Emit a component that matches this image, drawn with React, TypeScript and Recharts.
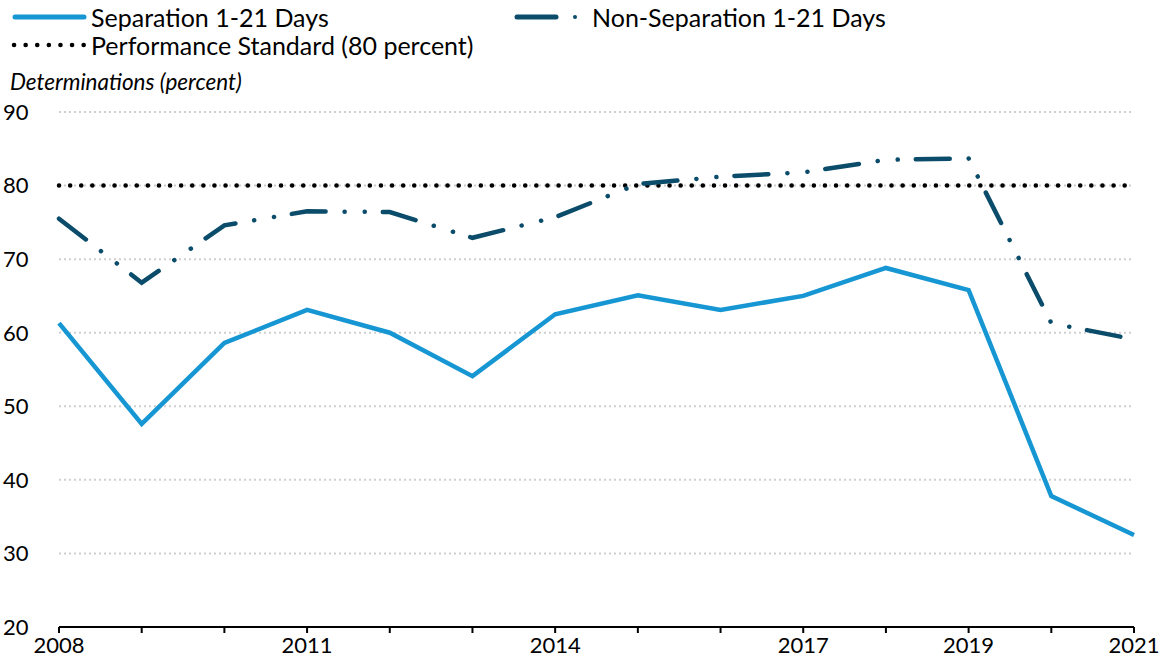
import React from "react";
import { CartesianGrid, Line, LineChart, ReferenceLine, XAxis, YAxis } from "recharts";

const years = [2008, 2009, 2010, 2011, 2012, 2013, 2014, 2015, 2016, 2017, 2018, 2019, 2020, 2021];
const separation = [61.3, 47.6, 58.6, 63.1, 60.0, 54.1, 62.5, 65.1, 63.1, 65.0, 68.8, 65.8, 37.8, 32.5];
const nonSeparation = [75.5, 66.8, 74.6, 76.5, 76.4, 72.9, 75.7, 80.2, 81.2, 81.8, 83.5, 83.7, 61.3, 59.1];
const labelledYears = [2008, 2011, 2014, 2017, 2019, 2021];
const yTicks = [20, 30, 40, 50, 60, 70, 80, 90];
const standard = 80;

const data = years.map((year, i) => ({ year, sep: separation[i], nonSep: nonSeparation[i] }));

const cyan = "#1696d2";
const navy = "#0a4c6a";
const font = "Lato, 'Open Sans', sans-serif";
// long dash, then two dots
const dashDot = "34 19 0.1 20 0.1 18";

function Legend() {
  return (
    <div style={{ position: "absolute", left: 0, top: 0, width: 1166, fontFamily: font, fontSize: 25, color: "#000", lineHeight: "28px" }}>
      <div style={{ position: "absolute", left: 11, top: 3, display: "flex", alignItems: "center" }}>
        <svg width={80} height={10}>
          <line x1={4} y1={5} x2={73} y2={5} stroke={cyan} strokeWidth={5} strokeLinecap="round" />
        </svg>
        <span>Separation 1-21 Days</span>
      </div>
      <div style={{ position: "absolute", left: 513, top: 3, display: "flex", alignItems: "center" }}>
        <svg width={79} height={10}>
          <line x1={4} y1={5} x2={43} y2={5} stroke={navy} strokeWidth={5} strokeLinecap="round" />
          <circle cx={62} cy={5} r={2} fill={navy} />
        </svg>
        <span>Non-Separation 1-21 Days</span>
      </div>
      <div style={{ position: "absolute", left: 11, top: 31, display: "flex", alignItems: "center" }}>
        <svg width={80} height={10}>
          <line x1={3} y1={5} x2={73} y2={5} stroke="#000" strokeWidth={4.5} strokeDasharray="0.1 11.5" strokeLinecap="round" />
        </svg>
        <span>Performance Standard (80 percent)</span>
      </div>
      <div style={{ position: "absolute", left: 10, top: 68, fontSize: 22.5, fontStyle: "italic" }}>
        Determinations (percent)
      </div>
    </div>
  );
}

export default function App() {
  return (
    <div style={{ position: "absolute", left: 0, top: 0, width: 1166, height: 671, background: "#fff" }}>
      <LineChart width={1166} height={671} data={data} margin={{ top: 112, right: 32, bottom: 0, left: 0 }}>
        <CartesianGrid vertical={false} stroke="#cfcfcf" strokeWidth={2} strokeDasharray="2 3" />
        <XAxis
          dataKey="year"
          type="number"
          domain={[2008, 2021]}
          ticks={years}
          interval={0}
          tickFormatter={(v: number) => (labelledYears.includes(v) ? String(v) : "")}
          axisLine={{ stroke: "#000", strokeWidth: 2 }}
          tickLine={{ stroke: "#000", strokeWidth: 2 }}
          tickSize={6}
          tickMargin={4}
          height={44}
          tick={{ fill: "#000", fontSize: 22, fontFamily: font }}
        />
        <YAxis
          domain={[20, 90]}
          ticks={yTicks}
          interval={0}
          axisLine={false}
          tickLine={false}
          width={59}
          tickMargin={14}
          tick={{ fill: "#000", fontSize: 22, fontFamily: font, textAnchor: "start", dx: -36 }}
        />
        <ReferenceLine y={standard} stroke="#000" strokeWidth={4.5} strokeDasharray="0.1 11" strokeLinecap="round" />
        <Line dataKey="nonSep" stroke={navy} strokeWidth={4.5} strokeDasharray={dashDot} strokeLinecap="round" dot={false} isAnimationActive={false} />
        <Line dataKey="sep" stroke={cyan} strokeWidth={4.5} dot={false} isAnimationActive={false} />
      </LineChart>
      <Legend />
    </div>
  );
}
